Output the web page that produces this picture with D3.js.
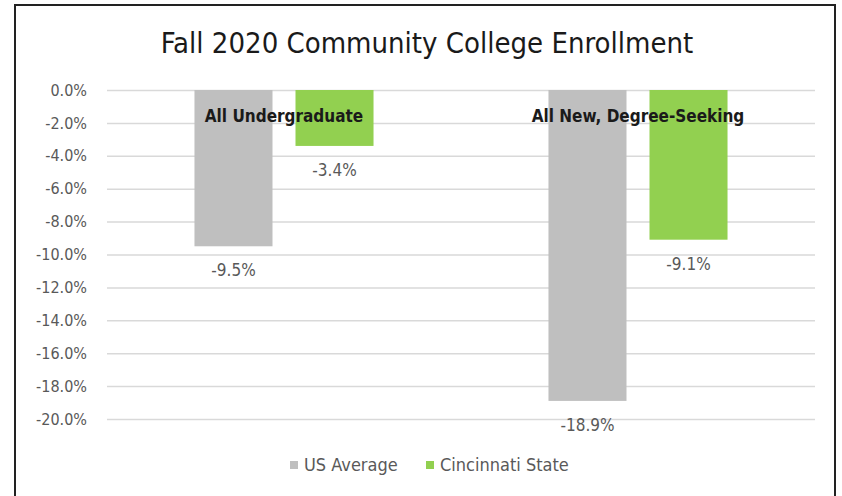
<!DOCTYPE html>
<html>
<head>
<meta charset="utf-8">
<script src="https://cdn.jsdelivr.net/npm/d3@7"></script>
<style>
  body { margin: 0; background: #fff; }
  svg { display: block; font-family: "Liberation Sans Narrow", "DejaVu Sans Condensed", "Liberation Sans", sans-serif; }
</style>
</head>
<body>
<svg width="842" height="496"></svg>
<script>
const categories = ["All Undergraduate", "All New, Degree-Seeking"];
const seriesNames = ["US Average", "Cincinnati State"];
const usAverage = [-9.5, -18.9];
const cincinnatiState = [-3.4, -9.1];
const yTicks = [0, -2, -4, -6, -8, -10, -12, -14, -16, -18, -20];
const colors = ["#bfbfbf", "#92d050"];

// plain hyphen for negatives, like the original
const fmt = d3.formatLocale({
  decimal: ".", thousands: ",", grouping: [3], currency: ["$", ""], minus: "-"
}).format(".1f");
const pct = d => fmt(d) + "%";

const svg = d3.select("svg");

// outer frame
svg.append("rect")
  .attr("x", 15).attr("y", 5)
  .attr("width", 820).attr("height", 500)
  .attr("fill", "#fff")
  .attr("stroke", "#222")
  .attr("stroke-width", 2);

svg.append("text")
  .attr("x", 427).attr("y", 53)
  .attr("text-anchor", "middle")
  .attr("font-size", 29)
  .attr("fill", "#1a1a1a")
  .text("Fall 2020 Community College Enrollment");

const x0 = d3.scaleBand().domain(categories).range([107, 815]);
const x1 = d3.scaleBand().domain(seriesNames)
  .range([0, x0.bandwidth()])
  .paddingInner(0.2277)
  .paddingOuter(0.866);
const y = d3.scaleLinear().domain([-20, 0]).range([419, 90]);

// gridlines + y labels
const yAxis = d3.axisLeft(y)
  .tickValues(yTicks)
  .tickSize(-(815 - 107))
  .tickPadding(20)
  .tickFormat(pct);

const ga = svg.append("g")
  .attr("transform", "translate(107,0)")
  .call(yAxis);
ga.select(".domain").remove();
ga.selectAll(".tick line").attr("stroke", "#d9d9d9").attr("stroke-width", 1.5);
ga.selectAll(".tick text")
  .attr("fill", "#595959")
  .attr("font-size", 16)
  .attr("font-family", "Liberation Sans Narrow, DejaVu Sans Condensed, sans-serif");

const rows = categories.map((c, i) => ({
  cat: c,
  vals: [
    { key: seriesNames[0], v: usAverage[i], color: colors[0] },
    { key: seriesNames[1], v: cincinnatiState[i], color: colors[1] }
  ]
}));

const groups = svg.selectAll(".grp")
  .data(rows)
  .enter().append("g")
  .attr("class", "grp")
  .attr("transform", d => `translate(${x0(d.cat)},0)`);

groups.selectAll("rect")
  .data(d => d.vals)
  .enter().append("rect")
  .attr("x", d => x1(d.key))
  .attr("y", y(0))
  .attr("width", x1.bandwidth())
  .attr("height", d => y(d.v) - y(0))
  .attr("fill", d => d.color);

groups.selectAll(".val")
  .data(d => d.vals)
  .enter().append("text")
  .attr("class", "val")
  .attr("x", d => x1(d.key) + x1.bandwidth() / 2)
  .attr("y", d => y(d.v) + 30)
  .attr("text-anchor", "middle")
  .attr("font-size", 17)
  .attr("fill", "#595959")
  .text(d => pct(d.v));

// category labels sit at the zero line, on top of bars
groups.append("text")
  .attr("x", x0.bandwidth() / 2)
  .attr("y", 122)
  .attr("text-anchor", "middle")
  .attr("font-size", 17)
  .attr("font-weight", "bold")
  .attr("fill", "#1a1a1a")
  .text(d => d.cat);

// legend
const legendPos = [290, 426];
const legend = svg.selectAll(".leg")
  .data(seriesNames)
  .enter().append("g")
  .attr("class", "leg")
  .attr("transform", (d, i) => `translate(${legendPos[i]},0)`);

legend.append("rect")
  .attr("x", 0).attr("y", 461)
  .attr("width", 8).attr("height", 8)
  .attr("fill", (d, i) => colors[i]);

legend.append("text")
  .attr("x", 14).attr("y", 471)
  .attr("font-size", 18)
  .attr("fill", "#595959")
  .text(d => d);
</script>
</body>
</html>
